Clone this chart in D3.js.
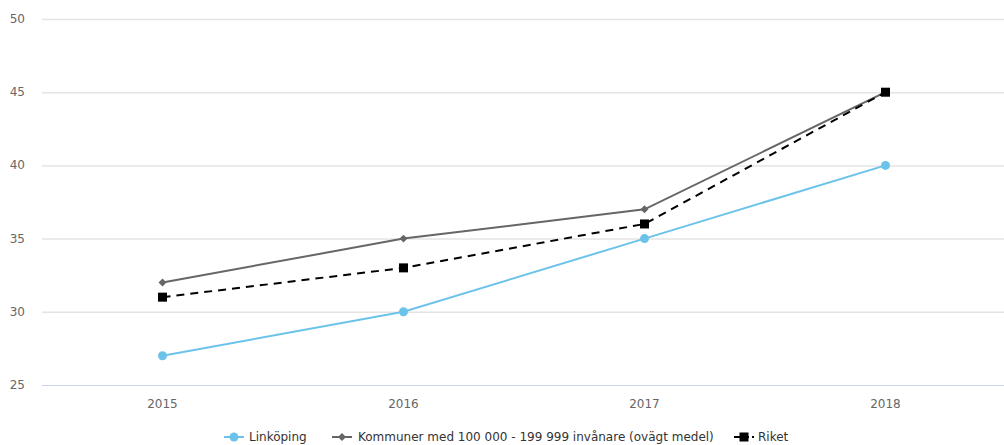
<!DOCTYPE html>
<html>
<head>
<meta charset="utf-8">
<script src="https://cdn.jsdelivr.net/npm/d3@7"></script>
<style>
  body { margin: 0; background: #fff; }
  text { font-family: "DejaVu Sans", sans-serif; }
</style>
</head>
<body>
<svg id="chart" width="1004" height="445"></svg>
<script>
const years = ["2015", "2016", "2017", "2018"]
const linkoping = [27, 30, 35, 40]
const kommuner = [32, 35, 37, 45]
const riket = [31, 33, 36, 45]
const yTicks = [25, 30, 35, 40, 45, 50]

const seriesNames = ["Linköping", "Kommuner med 100 000 - 199 999 invånare (ovägt medel)", "Riket"]

const svg = d3.select("#chart")
const margin = { left: 42, right: 0, top: 19, bottom: 60 }
const width = 1004, height = 445

const x = d3.scaleBand().domain(years).range([margin.left, 1006])
const y = d3.scaleLinear().domain([25, 50]).range([385, 19])

// grid
svg.append("g")
    .selectAll("line")
    .data(yTicks.filter(d => d !== 25))
    .enter().append("line")
    .attr("x1", margin.left).attr("x2", width)
    .attr("y1", d => y(d) + 0.5).attr("y2", d => y(d) + 0.5)
    .attr("stroke", "#e4e4e4").attr("stroke-width", 1.5)

// axis line
svg.append("line")
    .attr("x1", margin.left).attr("x2", width)
    .attr("y1", y(25) + 0.5).attr("y2", y(25) + 0.5)
    .attr("stroke", "#ccd6eb")

// y labels
svg.append("g")
    .selectAll("text")
    .data(yTicks)
    .enter().append("text")
    .attr("x", 25).attr("y", d => y(d) + 4)
    .attr("text-anchor", "end")
    .attr("font-size", 12).attr("fill", "#666")
    .text(d => d)

// x labels
svg.append("g")
    .selectAll("text")
    .data(years)
    .enter().append("text")
    .attr("x", d => x(d) + x.bandwidth() / 2).attr("y", 408)
    .attr("text-anchor", "middle")
    .attr("font-size", 12).attr("fill", "#666")
    .text(d => d)

const cx = (d, i) => x(years[i]) + x.bandwidth() / 2
const line = d3.line().x(cx).y(d => y(d))

// lines
svg.append("path").datum(linkoping)
    .attr("fill", "none").attr("stroke", "#6cc3ea").attr("stroke-width", 2)
    .attr("d", line)
svg.append("path").datum(kommuner)
    .attr("fill", "none").attr("stroke", "#666").attr("stroke-width", 2)
    .attr("d", line)
svg.append("path").datum(riket)
    .attr("fill", "none").attr("stroke", "#000").attr("stroke-width", 2)
    .attr("stroke-dasharray", "8,6")
    .attr("d", line)

// markers
svg.append("g").selectAll("circle")
    .data(linkoping).enter().append("circle")
    .attr("cx", cx).attr("cy", d => y(d)).attr("r", 4.5)
    .attr("fill", "#6cc3ea")
svg.append("g").selectAll("path")
    .data(kommuner).enter().append("path")
    .attr("transform", (d, i) => `translate(${cx(d, i)},${y(d)})`)
    .attr("d", d3.symbol(d3.symbolDiamond2, 40))
    .attr("fill", "#666")
svg.append("g").selectAll("rect")
    .data(riket).enter().append("rect")
    .attr("x", (d, i) => cx(d, i) - 4.5).attr("y", d => y(d) - 4.5)
    .attr("width", 9).attr("height", 9)
    .attr("fill", "#000")

// legend
const legY = 437
const leg = svg.append("g").attr("font-size", 12).attr("fill", "#333")
const legendX = [224, 332, 734]
const textX = [249, 358, 758]
// Linköping
leg.append("line").attr("x1", legendX[0]).attr("x2", legendX[0] + 20)
    .attr("y1", legY).attr("y2", legY).attr("stroke", "#6cc3ea").attr("stroke-width", 2)
leg.append("circle").attr("cx", legendX[0] + 10).attr("cy", legY).attr("r", 4.5).attr("fill", "#6cc3ea")
// Kommuner
leg.append("line").attr("x1", legendX[1]).attr("x2", legendX[1] + 20)
    .attr("y1", legY).attr("y2", legY).attr("stroke", "#666").attr("stroke-width", 2)
leg.append("path").attr("transform", `translate(${legendX[1] + 10},${legY})`)
    .attr("d", d3.symbol(d3.symbolDiamond2, 40)).attr("fill", "#666")
// Riket
leg.append("line").attr("x1", legendX[2]).attr("x2", legendX[2] + 20)
    .attr("y1", legY).attr("y2", legY).attr("stroke", "#000").attr("stroke-width", 2)
    .attr("stroke-dasharray", "6,3")
leg.append("rect").attr("x", legendX[2] + 5.5).attr("y", legY - 4.5)
    .attr("width", 9).attr("height", 9).attr("fill", "#000")

leg.selectAll("text.lbl").data(seriesNames).enter().append("text")
    .attr("class", "lbl")
    .attr("x", (d, i) => textX[i]).attr("y", legY + 4)
    .attr("fill", "#333")
    .text(d => d)
</script>
</body>
</html>
